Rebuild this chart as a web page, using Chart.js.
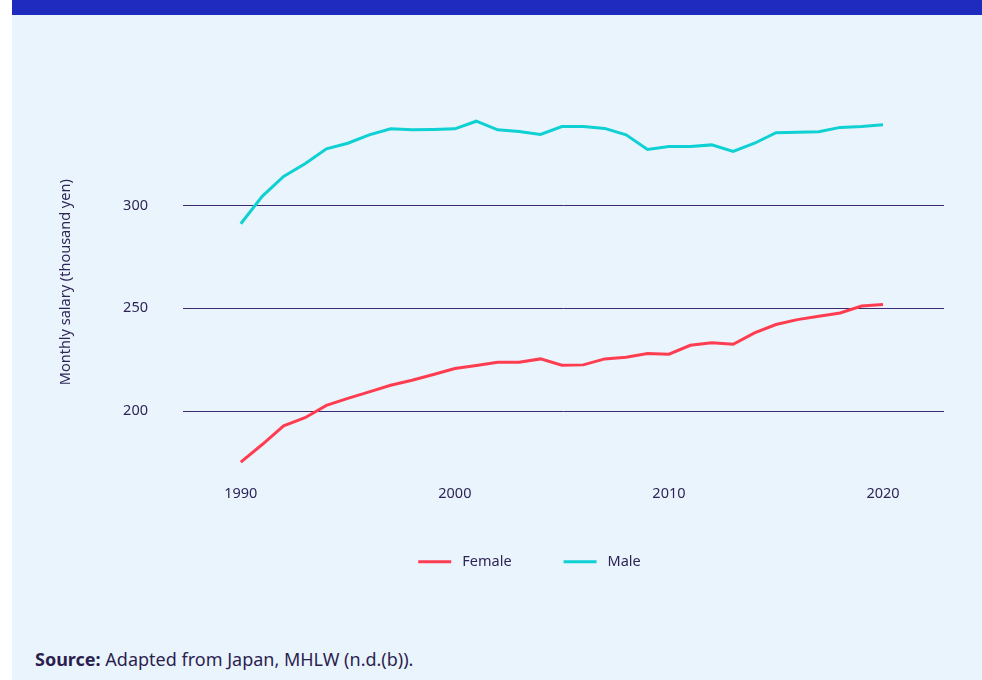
<!DOCTYPE html>
<html>
<head>
<meta charset="utf-8">
<script src="https://cdn.jsdelivr.net/npm/chart.js@4"></script>
<style>
  body { margin: 0; background: #fff; width: 982px; height: 680px; overflow: hidden; }
  #panel { position: absolute; left: 12px; top: 0; width: 970px; height: 680px; background: #EAF4FD; }
  #banner { position: absolute; left: 0; top: 0; width: 970px; height: 15px; background: #1F2BBF; }
  #wrap { position: absolute; left: 0; top: 15px; width: 970px; height: 564px; }
  #source { position: absolute; left: 23px; top: 647px; font-family: "Noto Sans", "Open Sans", sans-serif; font-size: 18px; color: #2C1F4F; }
</style>
</head>
<body>
<div id="panel">
  <div id="banner"></div>
  <div id="wrap"><canvas id="chart"></canvas></div>
  <div id="source"><b>Source:</b> Adapted from Japan, MHLW (n.d.(b)).</div>
</div>
<script>
const years = [1990, 1991, 1992, 1993, 1994, 1995, 1996, 1997, 1998, 1999,
               2000, 2001, 2002, 2003, 2004, 2005, 2006, 2007, 2008, 2009,
               2010, 2011, 2012, 2013, 2014, 2015, 2016, 2017, 2018, 2019, 2020];
const female = [175.2, 183.8, 192.9, 196.8, 202.8, 206.2, 209.4, 212.6, 215.0, 217.8,
                220.7, 222.2, 223.8, 223.8, 225.4, 222.3, 222.5, 225.4, 226.2, 228.0,
                227.7, 232.0, 233.2, 232.5, 238.0, 242.1, 244.5, 246.1, 247.7, 251.1, 251.8];
const male = [291.1, 304.4, 314.1, 320.2, 327.5, 330.2, 334.3, 337.2, 336.7, 336.9,
              337.2, 340.9, 336.7, 335.9, 334.5, 338.3, 338.3, 337.4, 334.3, 327.2,
              328.6, 328.6, 329.4, 326.2, 330.2, 335.3, 335.6, 335.8, 337.9, 338.3, 339.2];
const xTicks = [1990, 2000, 2010, 2020];
const yTicks = [200, 250, 300];

const textColor = '#2E2456';
const font = { family: '"Noto Sans", "Open Sans", sans-serif', size: 14.5 };

new Chart(document.getElementById('chart'), {
  type: 'line',
  data: {
    datasets: [
      {
        label: 'Female',
        data: years.map((y, i) => ({ x: y, y: female[i] })),
        borderColor: '#FF3D50',
        backgroundColor: '#FF3D50',
        borderWidth: 3,
        pointRadius: 0,
        tension: 0
      },
      {
        label: 'Male',
        data: years.map((y, i) => ({ x: y, y: male[i] })),
        borderColor: '#0FD0D2',
        backgroundColor: '#0FD0D2',
        borderWidth: 3,
        pointRadius: 0,
        tension: 0
      }
    ]
  },
  options: {
    responsive: true,
    maintainAspectRatio: false,
    animation: false,
    layout: { padding: { left: 103, right: 38, top: 70, bottom: 0 } },
    scales: {
      x: {
        type: 'linear',
        min: 1987.3,
        max: 2022.85,
        afterBuildTicks: s => { s.ticks = xTicks.map(v => ({ value: v })); },
        afterFit: s => { s.height = 23; },
        grid: { display: false, drawTicks: false },
        border: { display: false },
        ticks: { color: textColor, font: font, padding: 6, callback: v => String(v) }
      },
      y: {
        min: 166.8,
        max: 358.5,
        afterBuildTicks: s => { s.ticks = yTicks.map(v => ({ value: v })); },
        afterFit: s => { s.width = 68; },
        grid: { color: '#3B2A6E', lineWidth: 1, drawTicks: false },
        border: { display: false },
        ticks: { color: textColor, font: font, padding: 35 },
        title: { display: true, text: 'Monthly salary (thousand yen)', color: textColor, font: font,
                 padding: { top: -57.7, bottom: 0 } }
      }
    },
    plugins: {
      tooltip: { enabled: false },
      legend: {
        position: 'bottom',
        labels: {
          color: textColor,
          font: font,
          boxWidth: 33,
          boxHeight: 3,
          padding: 52,
          generateLabels: chart => Chart.defaults.plugins.legend.labels.generateLabels(chart)
            .map(l => Object.assign(l, { lineWidth: 0, text: ' ' + l.text }))
        }
      }
    }
  }
});
</script>
</body>
</html>
